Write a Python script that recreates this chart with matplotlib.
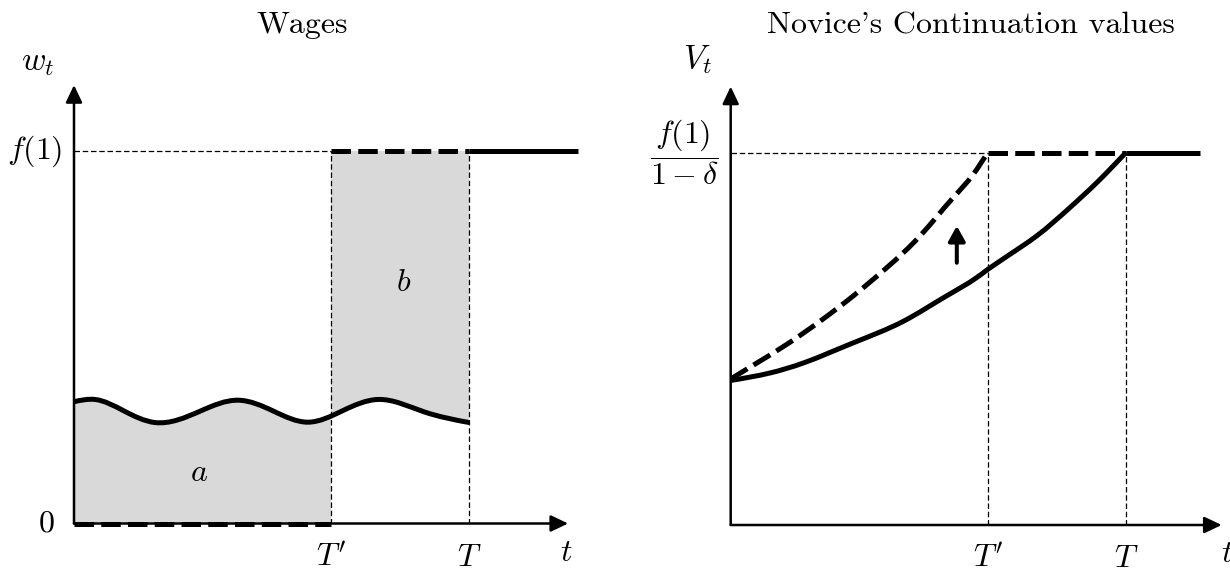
import numpy as np
import matplotlib.pyplot as plt
from matplotlib.path import Path
from matplotlib.patches import PathPatch, Rectangle

plt.rcParams['mathtext.fontset'] = 'cm'
plt.rcParams['axes.formatter.use_mathtext'] = True

# time axis scaled so that T = 10, value axis so that the cap level = 1
T_PRIME = 6.5
T_END = 10.0
CAP = 1.0

# left panel: novice wage path w_t (peaks, troughs and mid points)
wage_t = [0.0, 0.53, 1.25, 2.05, 3.2, 4.15, 5.06, 5.92, 6.8, 7.69, 8.85, 10.0]
wage_w = [0.327, 0.333, 0.303, 0.271, 0.302, 0.331, 0.301, 0.272, 0.303, 0.333, 0.300, 0.271]

# right panel: continuation values, solid = original, dashed = shifted up
v_old_t1 = [0.0, 0.99, 1.84, 3.10, 4.37, 5.46, 6.22, 6.5]
v_old_v1 = [0.388, 0.408, 0.435, 0.489, 0.547, 0.615, 0.664, 0.686]
v_old_t2 = [6.5, 7.07, 7.74, 8.58, 9.26, 10.0]
v_old_v2 = [0.686, 0.727, 0.776, 0.852, 0.919, 1.0]

v_new_t = [0.0, 0.57, 1.42, 2.26, 3.10, 3.95, 4.79, 5.63, 6.14, 6.5]
v_new_v = [0.392, 0.429, 0.485, 0.547, 0.615, 0.691, 0.776, 0.879, 0.942, 1.0]

W, H = 1230, 571
PX_T, PX_V = 39.53, 372.5
XMAX, YMAX = 13.2, 1.3
FS = 23
THICK = 3.6
DASH = (0, (3.9, 1.45))
THIN = dict(color='black', lw=0.9, linestyle=(0, (4.4, 2.2)))


def smooth(xs, ys):
    # natural cubic spline through the read points, drawn as bezier segments
    x = np.asarray(xs, float)
    y = np.asarray(ys, float)
    n = len(x)
    h = np.diff(x)
    A = np.zeros((n, n))
    b = np.zeros(n)
    A[0, :2] = [2, 1]
    b[0] = 3 * (y[1] - y[0]) / h[0]
    A[-1, -2:] = [1, 2]
    b[-1] = 3 * (y[-1] - y[-2]) / h[-1]
    for i in range(1, n - 1):
        A[i, i - 1] = 1 / h[i - 1]
        A[i, i] = 2 * (1 / h[i - 1] + 1 / h[i])
        A[i, i + 1] = 1 / h[i]
        b[i] = 3 * ((y[i] - y[i - 1]) / h[i - 1] ** 2 + (y[i + 1] - y[i]) / h[i] ** 2)
    m = np.linalg.solve(A, b)
    verts = [(x[0], y[0])]
    codes = [Path.MOVETO]
    for i in range(n - 1):
        verts += [(x[i] + h[i] / 3, y[i] + m[i] * h[i] / 3),
                  (x[i + 1] - h[i] / 3, y[i + 1] - m[i + 1] * h[i] / 3),
                  (x[i + 1], y[i + 1])]
        codes += [Path.CURVE4] * 3
    return verts, codes


def make_axes(x0, y0):
    ax = fig.add_axes([x0 / W, (H - y0) / H, XMAX * PX_T / W, YMAX * PX_V / H])
    ax.set_xlim(0, XMAX)
    ax.set_ylim(0, YMAX)
    ax.set_axis_off()
    return ax


def draw_axes(ax, xtip, ytip):
    for tip in [(xtip, 0), (0, ytip)]:
        ax.annotate('', xy=tip, xytext=(0, 0), annotation_clip=False,
                    arrowprops=dict(arrowstyle='-|>,head_length=1.05,head_width=0.5',
                                    color='black', lw=1.8, shrinkA=0, shrinkB=0),
                    zorder=2)


fig = plt.figure(figsize=(12.3, 5.71), dpi=100)

# ---------------- Wages ----------------
ax = make_axes(74, 523.5)
wv, wc = smooth(wage_t, wage_w)

area_a = PathPatch(Path(wv + [(T_END, 0), (0, 0), (0, 0)],
                        wc + [Path.LINETO, Path.LINETO, Path.CLOSEPOLY]),
                   facecolor='#d9d9d9', edgecolor='none', zorder=1)
ax.add_patch(area_a)
area_a.set_clip_path(Rectangle((0, 0), T_PRIME, CAP, transform=ax.transData))

area_b = PathPatch(Path(wv + [(T_END, CAP), (0, CAP), (0, CAP)],
                        wc + [Path.LINETO, Path.LINETO, Path.CLOSEPOLY]),
                   facecolor='#d9d9d9', edgecolor='none', zorder=1)
ax.add_patch(area_b)
area_b.set_clip_path(Rectangle((T_PRIME, 0), T_END - T_PRIME, CAP, transform=ax.transData))

ax.plot([0, T_PRIME], [CAP, CAP], **THIN)
ax.plot([T_PRIME, T_PRIME], [0, CAP], **THIN)
ax.plot([T_END, T_END], [0, CAP], **THIN)

ax.add_patch(PathPatch(Path(wv, wc), fill=False, lw=THICK, edgecolor='black',
                       capstyle='butt', zorder=3))
ax.plot([0, T_PRIME], [0, 0], color='black', lw=THICK, linestyle=DASH,
        zorder=4, clip_on=False)
ax.plot([T_PRIME, T_END], [CAP, CAP], color='black', lw=THICK, linestyle=DASH, zorder=4)
ax.plot([T_END, 12.75], [CAP, CAP], color='black', lw=THICK,
        solid_capstyle='butt', zorder=4, clip_on=False)

draw_axes(ax, 12.5, 1.177)

ax.text(-0.91, 1.24, r'$w_t$', ha='center', va='center', fontsize=FS + 1)
ax.text(-0.3, CAP, r'$f(1)$', ha='right', va='center', fontsize=FS)
ax.text(-0.48, 0, r'$0$', ha='right', va='center', fontsize=FS)
ax.text(T_PRIME, -0.09, r"$T'$", ha='center', va='center', fontsize=FS)
ax.text(T_END, -0.09, r'$T$', ha='center', va='center', fontsize=FS)
ax.text(12.45, -0.077, r'$t$', ha='center', va='center', fontsize=FS)
ax.text(3.16, 0.138, r'$a$', ha='center', va='center', fontsize=FS)
ax.text(8.34, 0.648, r'$b$', ha='center', va='center', fontsize=FS)

fig.text(302.5 / W, 1 - 33 / H, 'Wages', family='cmr10', fontsize=23,
         ha='center', va='baseline')

# ---------------- Continuation values ----------------
ax = make_axes(730.7, 525)

ax.plot([0, T_PRIME], [CAP, CAP], **THIN)
ax.plot([T_PRIME, T_PRIME], [0, CAP], **THIN)
ax.plot([T_END, T_END], [0, CAP], **THIN)

v1, c1 = smooth(v_old_t1, v_old_v1)
v2, c2 = smooth(v_old_t2, v_old_v2)
ax.add_patch(PathPatch(Path(v1 + v2[1:], c1 + c2[1:]), fill=False, lw=THICK,
                       edgecolor='black', capstyle='butt', zorder=3))
nv, nc = smooth(v_new_t, v_new_v)
ax.add_patch(PathPatch(Path(nv, nc), fill=False, lw=THICK, edgecolor='black',
                       linestyle=DASH, capstyle='butt', zorder=3))
ax.plot([T_PRIME, T_END], [CAP, CAP], color='black', lw=THICK, linestyle=DASH, zorder=4)
ax.plot([T_END, 11.87], [CAP, CAP], color='black', lw=THICK,
        solid_capstyle='butt', zorder=4)

ax.annotate('', xy=(5.72, 0.803), xytext=(5.72, 0.704),
            arrowprops=dict(arrowstyle='-|>,head_length=0.9,head_width=0.5',
                            color='black', lw=2.9, shrinkA=0, shrinkB=0))

draw_axes(ax, 12.42, 1.177)

ax.text(-0.85, 1.25, r'$V_t$', ha='center', va='center', fontsize=FS + 1)
ax.text(-0.32, CAP, r'$\dfrac{f(1)}{1-\delta}$', ha='right', va='center', fontsize=FS)
ax.text(T_PRIME, -0.09, r"$T'$", ha='center', va='center', fontsize=FS)
ax.text(T_END, -0.09, r'$T$', ha='center', va='center', fontsize=FS)
ax.text(12.55, -0.077, r'$t$', ha='center', va='center', fontsize=FS)

fig.text(971 / W, 1 - 34 / H, "Novice's Continuation values", family='cmr10',
         fontsize=23, ha='center', va='baseline')

fig.savefig('out.png', dpi=100)
